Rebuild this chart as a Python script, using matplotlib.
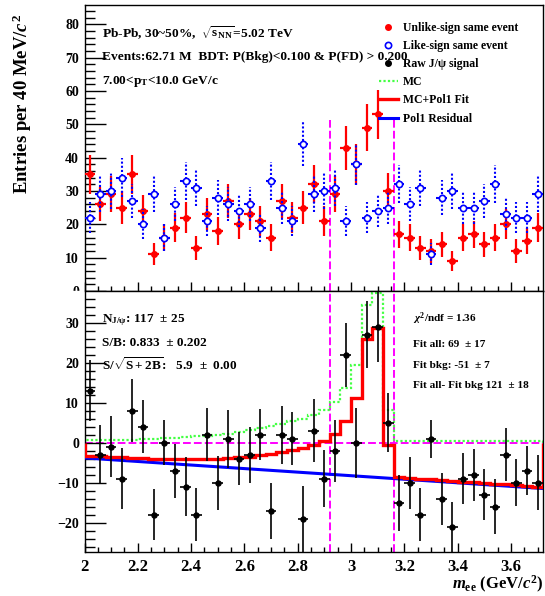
import numpy as np
import matplotlib
matplotlib.use('Agg')
import matplotlib.pyplot as plt
from matplotlib.lines import Line2D
from matplotlib.patches import Rectangle

# 40 MeV bins between 2.00 and 3.72 GeV/c^2
edges = np.round(np.arange(2.0, 3.7201, 0.04), 2)
centers = 0.5 * (edges[:-1] + edges[1:])

unlike = [35, 26, 29, 25, 35, 24, 11, 16, 19, 22, 13, 23, 18, 27, 20, 23, 21, 16, 27, 22,
          25, 32, 21, 29, 43, 38, 49, 53, 30, 17, 16, 13, 12, 14, 9, 16, 17, 14, 16, 20,
          12, 15, 19]
like = [22, 29, 30, 34, 27, 20, 29, 16, 26, 33, 31, 21, 28, 26, 24, 26, 19, 33, 25, 21,
        44, 29, 30, 31, 21, 38, 22, 24, 25, 32, 26, 31, 11, 28, 30, 25, 25, 27, 32, 23,
        22, 22, 29]
# MC signal shape (radiative tail + peak)
mc = [0.6, 0.7, 0.7, 0.8, 0.8, 0.9, 1.0, 1.1, 1.3, 1.4, 1.6, 1.8, 2.0, 2.3, 2.7, 3.1,
      3.6, 4.2, 4.8, 5.5, 6.0, 7.0, 8.2, 10.1, 13.6, 19.4, 34.4, 37.3, 8.2, 0.4, 0.4,
      0.4, 0.4, 0.4, 0.4, 0.4, 0.4, 0.4, 0.4, 0.4, 0.4, 0.4, 0.4]
pol1 = (5.08, -4.44)
win_lo, win_hi = 2.92, 3.16

unlike = np.array(unlike, float)
like = np.array(like, float)
mc = np.array(mc)
signal = unlike - like
sig_err = np.sqrt(unlike + like)
bkg = pol1[0] + pol1[1] * centers
fit = mc + bkg

W, H = 545, 596
plt.rcParams['font.family'] = ['Liberation Serif', 'DejaVu Serif']
plt.rcParams['font.weight'] = 'bold'
plt.rcParams['mathtext.fontset'] = 'custom'
plt.rcParams['mathtext.rm'] = 'Liberation Serif:bold'
plt.rcParams['mathtext.bf'] = 'Liberation Serif:bold'
plt.rcParams['mathtext.it'] = 'Liberation Serif:italic:bold'

fig = plt.figure(figsize=(W / 100, H / 100), dpi=100)


def fx(x):
    return x / W


def fy(y):
    return 1 - y / H


left, right = 84.5, 543
ax1 = fig.add_axes([fx(left), fy(291), fx(right - left), (291 - 5) / H])
ax2 = fig.add_axes([fx(left), fy(552), fx(right - left), (552 - 291) / H])
ax2.set_zorder(2)

for ax in (ax1, ax2):
    ax.set_xlim(2.0, 3.72)
    ax.xaxis.set_major_locator(plt.MultipleLocator(0.2))
    ax.xaxis.set_minor_locator(plt.MultipleLocator(0.05))
    ax.xaxis.set_major_formatter(plt.FuncFormatter(lambda v, p: f'{v:g}'))
    ax.yaxis.set_major_locator(plt.MultipleLocator(10))
    ax.yaxis.set_minor_locator(plt.MultipleLocator(2))
    ax.tick_params(which='both', direction='in', top=False, right=False)
    ax.tick_params(axis='x', which='major', length=6.5, width=1)
    ax.tick_params(axis='x', which='minor', length=3.3, width=1)
    ax.tick_params(axis='y', which='major', length=15, width=1, labelsize=10, pad=4)
    ax.tick_params(axis='y', which='minor', length=7.5, width=1)
    for s in ax.spines.values():
        s.set_linewidth(1)

# top panel: same-event pairs
ax1.set_ylim(0, 85.8)
ax1.tick_params(axis='x', labelbottom=False)
ax1.errorbar(centers, unlike, xerr=0.02, yerr=np.sqrt(unlike), fmt='o', color='red',
             ms=4, elinewidth=1.6, capsize=0, zorder=3)
eb = ax1.errorbar(centers, like, xerr=0.02, yerr=np.sqrt(like), fmt='o', color='blue',
                  mfc='white', mec='blue', mew=1.2, ms=4.5, elinewidth=1.5, capsize=0,
                  zorder=4)
eb[2][1].set_linestyle((0, (1, 1)))
ax1.vlines([win_lo, win_hi], 0, 51.3, colors='#ff00ff', linestyles=(0, (4, 1.6)),
           lw=1.4, zorder=2)

# bottom panel: raw signal and fit
ax2.set_ylim(-27.3, 37.9)
ax2.tick_params(axis='x', labelsize=12, pad=5)
ax2.axhline(0, color='#ff00ff', ls=(0, (4, 1.6)), lw=1.4, zorder=1)
ax2.axvline(win_lo, color='#ff00ff', ls=(0, (4, 1.6)), lw=1.4, zorder=1)
ax2.axvline(win_hi, color='#ff00ff', ls=(0, (4, 1.6)), lw=1.4, zorder=1)
ax2.stairs(mc, edges, color='#44ff44', lw=1.6, ls=(0, (1, 1)), zorder=2)
ax2.plot(edges[[0, -1]], pol1[0] + pol1[1] * edges[[0, -1]], color='blue', lw=2.2, zorder=3)
ax2.stairs(fit, edges, color='red', lw=2.4, zorder=4)
ax2.errorbar(centers, signal, xerr=0.02, yerr=sig_err, fmt='o', color='black', ms=3.6,
             elinewidth=1.2, capsize=0, zorder=5)

# half-hidden "0" of the upper axis
fig.add_artist(Rectangle((fx(55), fy(300)), fx(29), 9 / H, transform=fig.transFigure,
                         color='white', zorder=1))

fig.text(fx(22), fy(14), r'Entries per 40 MeV/$c^{2}$', rotation=90, ha='center', va='top',
         fontsize=13.5)
fig.text(fx(543), fy(589), r'$m_{\rm ee}$ (GeV/$c^{2}$)', ha='right', va='baseline',
         fontsize=12)

fs = 9.6
fig.text(fx(101.7), fy(36.7), r'Pb-Pb, 30~50%,  $\sqrt{\rm s_{NN}}$=5.02 TeV', fontsize=fs,
         va='baseline')
fig.text(fx(101.7), fy(60), 'Events:62.71 M  BDT: P(Bkg)<0.100 & P(FD) > 0.200', fontsize=fs,
         va='baseline')
fig.text(fx(101.7), fy(84), r'7.00<$\rm p_{T}$<10.0 GeV/c', fontsize=fs, va='baseline')

# legend
leg_y = [26.7, 45, 62.7, 81, 99.3, 117.7]
leg_txt = ['Unlike-sign same event', 'Like-sign same event', 'Raw J/ψ signal', 'MC',
           'MC+Pol1 Fit', 'Pol1 Residual']
fig.add_artist(Line2D([fx(388)], [fy(leg_y[0])], marker='o', color='red', ms=4))
fig.add_artist(Line2D([fx(388)], [fy(leg_y[1])], marker='o', mfc='white', mec='blue',
                      mew=1.2, ms=4.5))
fig.add_artist(Line2D([fx(388)], [fy(leg_y[2])], marker='o', color='black', ms=4))
fig.add_artist(Line2D([fx(379), fx(398)], [fy(leg_y[3])] * 2, color='#44ff44', lw=1.6,
                      ls=(0, (1, 1))))
fig.add_artist(Line2D([fx(379), fx(398)], [fy(leg_y[4])] * 2, color='red', lw=2.4))
fig.add_artist(Line2D([fx(379), fx(398)], [fy(leg_y[5])] * 2, color='blue', lw=2.2))
for y, t in zip(leg_y, leg_txt):
    fig.text(fx(402.7), fy(y + 4), t, fontsize=8.5, va='baseline')

# yield summary
fs1 = 9.5
fig.text(fx(101.7), fy(321.7), r'$\rm N_{J/\psi}$: 117  ± 25', fontsize=fs1, va='baseline')
fig.text(fx(101.7), fy(346), 'S/B: 0.833  ± 0.202', fontsize=fs1, va='baseline')
fig.text(fx(101.7), fy(370), r'S/$\sqrt{\rm S+2B}$:   5.9  ±  0.00', fontsize=fs1,
         va='baseline')
fs2 = 8.1
fig.text(fx(413.3), fy(321.7), r'$\chi^{2}$/ndf = 1.36', fontsize=fs2, va='baseline')
fig.text(fx(413.3), fy(346.7), 'Fit all: 69  ± 17', fontsize=fs2, va='baseline')
fig.text(fx(413.3), fy(367.7), 'Fit bkg: -51  ± 7', fontsize=fs2, va='baseline')
fig.text(fx(413.3), fy(387.7), 'Fit all- Fit bkg 121  ± 18', fontsize=fs2, va='baseline')

fig.savefig('out.png', dpi=100)
